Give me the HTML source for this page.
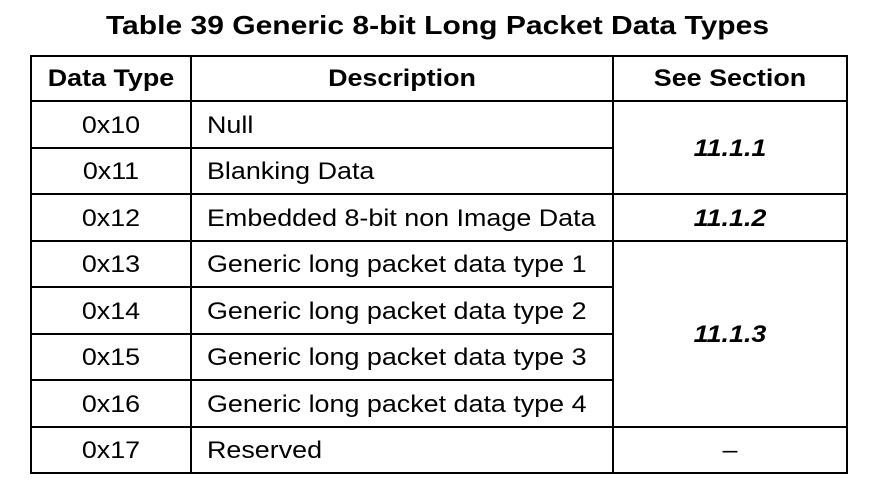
<html><head><style>
body{margin:0;width:875px;height:498px;background:#fff;position:relative;font-family:"Liberation Sans",Arial,sans-serif;color:#000;overflow:hidden}
.l{position:absolute;background:#000}
.t{position:absolute;font-size:24px;white-space:nowrap;line-height:1;transform:scaleX(1.12);transform-origin:left center}
.c{text-align:center;transform-origin:center center}
.b{font-weight:bold}
.bi{font-weight:bold;font-style:italic}
</style></head><body>
<div class="t b c" style="left:0;width:875px;top:12px;font-size:26px;transform:scaleX(1.155)">Table 39 Generic 8-bit Long Packet Data Types</div>
<div class="l" style="left:30px;top:55px;width:818px;height:2px"></div>
<div class="l" style="left:30px;top:472px;width:818px;height:2px"></div>
<div class="l" style="left:30px;top:55px;width:2px;height:419px"></div>
<div class="l" style="left:846px;top:55px;width:2px;height:419px"></div>
<div class="l" style="left:190px;top:55px;width:2px;height:419px"></div>
<div class="l" style="left:612px;top:55px;width:2px;height:419px"></div>
<div class="l" style="left:30px;top:100px;width:818px;height:2px"></div>
<div class="l" style="left:30px;top:147px;width:583px;height:2px"></div>
<div class="l" style="left:30px;top:193px;width:818px;height:2px"></div>
<div class="l" style="left:30px;top:240px;width:818px;height:2px"></div>
<div class="l" style="left:30px;top:286px;width:583px;height:2px"></div>
<div class="l" style="left:30px;top:333px;width:583px;height:2px"></div>
<div class="l" style="left:30px;top:379px;width:583px;height:2px"></div>
<div class="l" style="left:30px;top:426px;width:818px;height:2px"></div>
<div class="t b c" style="left:31px;width:160px;top:67px">Data Type</div>
<div class="t b c" style="left:191px;width:422px;top:67px">Description</div>
<div class="t b c" style="left:613px;width:234px;top:67px">See Section</div>
<div class="t c" style="left:31px;width:160px;top:114px">0x10</div>
<div class="t c" style="left:31px;width:160px;top:160px">0x11</div>
<div class="t c" style="left:31px;width:160px;top:207px">0x12</div>
<div class="t c" style="left:31px;width:160px;top:253px">0x13</div>
<div class="t c" style="left:31px;width:160px;top:300px">0x14</div>
<div class="t c" style="left:31px;width:160px;top:346px">0x15</div>
<div class="t c" style="left:31px;width:160px;top:393px">0x16</div>
<div class="t c" style="left:31px;width:160px;top:439px">0x17</div>
<div class="t" style="left:207px;top:114px">Null</div>
<div class="t" style="left:207px;top:160px">Blanking Data</div>
<div class="t" style="left:207px;top:207px">Embedded 8-bit non Image Data</div>
<div class="t" style="left:207px;top:253px">Generic long packet data type 1</div>
<div class="t" style="left:207px;top:300px">Generic long packet data type 2</div>
<div class="t" style="left:207px;top:346px">Generic long packet data type 3</div>
<div class="t" style="left:207px;top:393px">Generic long packet data type 4</div>
<div class="t" style="left:207px;top:439px">Reserved</div>
<div class="t bi c" style="left:613px;width:234px;top:137px">11.1.1</div>
<div class="t bi c" style="left:613px;width:234px;top:207px">11.1.2</div>
<div class="t bi c" style="left:613px;width:234px;top:323px">11.1.3</div>
<div class="t c" style="left:613px;width:234px;top:439px">–</div>
</body></html>
